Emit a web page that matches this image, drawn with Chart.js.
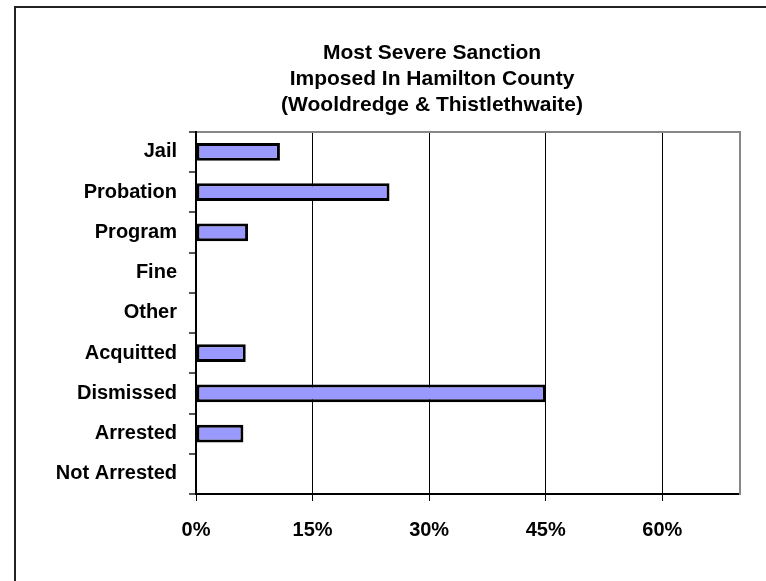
<!DOCTYPE html>
<html>
<head>
<meta charset="utf-8">
<script src="https://cdn.jsdelivr.net/npm/chart.js@4"></script>
<style>
    html, body { margin: 0; padding: 0; background: #fff; overflow: hidden; }
    #frame {
        position: absolute; left: 14px; top: 6px;
        width: 832px; height: 600px;
        border: 2px solid #222;
    }
</style>
</head>
<body>
<div id="frame"><canvas id="sanctionChart"></canvas></div>
<script>
var categories = ["Jail", "Probation", "Program", "Fine", "Other", "Acquitted", "Dismissed", "Arrested", "Not Arrested"];
var percents = [10.8, 24.9, 6.7, 0, 0, 6.4, 45.0, 6.1, 0];
var titleLines = ["Most Severe Sanction", "Imposed In Hamilton County", "(Wooldredge & Thistlethwaite)"];
var axisMax = 70;
var axisStep = 15;

Chart.defaults.font.family = "'Liberation Sans', Arial, sans-serif";
Chart.defaults.color = '#000';

var ctx = document.getElementById('sanctionChart').getContext('2d');
var sanction_chart = new Chart(ctx, {
    type: 'bar',
    data: {
        labels: categories,
        datasets: [
            {
                label: "Most Severe Sanction",
                data: percents,
                backgroundColor: '#9999FF',
                borderColor: '#000',
                borderWidth: 3,
                borderSkipped: false,
                categoryPercentage: 1.0,
                barPercentage: 0.44
            }
        ]
    },
    options: {
        indexAxis: 'y',
        responsive: true,
        maintainAspectRatio: false,
        animation: false,
        layout: { padding: 0 },
        plugins: {
            legend: { display: false },
            tooltip: { enabled: false },
            title: {
                display: true,
                text: titleLines,
                color: '#000',
                font: { size: 21, weight: 'bold', lineHeight: 1.25 },
                padding: { top: 32, bottom: 13 }
            }
        },
        scales: {
            x: {
                position: 'bottom',
                min: 0,
                max: axisMax,
                ticks: {
                    stepSize: axisStep,
                    includeBounds: false,
                    padding: 17,
                    font: { size: 20, weight: 'bold' },
                    callback: function(v) { return v + '%'; }
                },
                grid: { color: '#000', lineWidth: 1, tickLength: 7 },
                border: { color: '#000', width: 2 },
                afterFit: function(s) { s.height = 114; }
            },
            x2: {
                position: 'top',
                type: 'linear',
                display: true,
                ticks: { display: false },
                grid: { drawOnChartArea: false, drawTicks: false },
                border: { color: '#888', width: 2 },
                afterFit: function(s) { s.height = 0; }
            },
            y: {
                position: 'left',
                ticks: {
                    padding: 12,
                    font: { size: 20, weight: 'bold' }
                },
                grid: { drawOnChartArea: false, color: '#555', lineWidth: 2, tickLength: 7 },
                border: { color: '#000', width: 2 },
                afterFit: function(s) { s.width = 180; }
            },
            y2: {
                position: 'right',
                type: 'linear',
                display: true,
                ticks: { display: false },
                grid: { drawOnChartArea: false, drawTicks: false },
                border: { color: '#888', width: 2 },
                afterFit: function(s) { s.width = 108; }
            }
        }
    }
});
</script>
</body>
</html>
